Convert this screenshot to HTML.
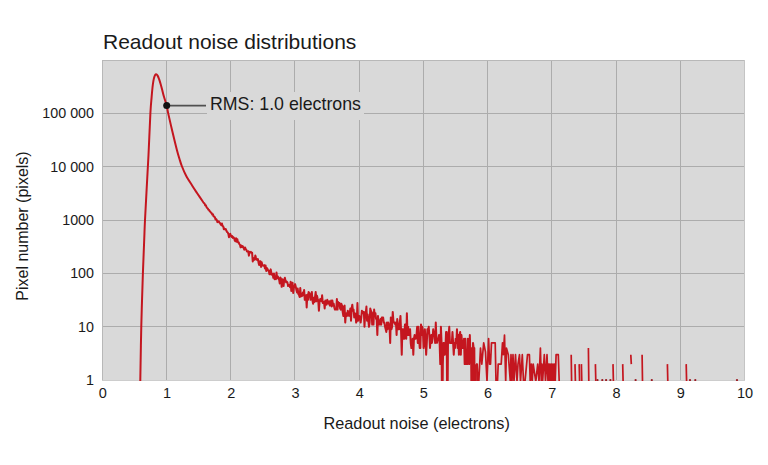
<!DOCTYPE html>
<html><head><meta charset="utf-8"><style>
html,body{margin:0;padding:0;background:#fff;}
body{width:768px;height:465px;position:relative;overflow:hidden;font-family:"Liberation Sans",sans-serif;color:#1a1a1a;}
.t{position:absolute;white-space:nowrap;}
#title{left:103px;top:30px;font-size:21px;color:#1a1a1a;}
#xt{left:323.5px;top:413.5px;font-size:16.3px;}
#yt{left:-52px;top:217px;width:150px;font-size:16px;transform:rotate(-90deg);transform-origin:center;text-align:center;}
.yl{position:absolute;right:674px;font-size:14.3px;line-height:16px;white-space:nowrap;}
.xl{position:absolute;top:385px;width:40px;text-align:center;font-size:14.5px;line-height:16px;}
svg{position:absolute;left:0;top:0;}
#rms{left:210px;top:93.5px;font-size:17.75px;color:#1a1a1a;}
</style></head><body>
<div id="title" class="t">Readout noise distributions</div>
<svg width="768" height="465" viewBox="0 0 768 465">
<defs><clipPath id="cp"><rect x="102" y="60" width="643" height="321"/></clipPath></defs>
<rect x="102" y="60" width="643" height="321" fill="#d9d9d9"/>
<g stroke="#acacac" stroke-width="1"><line x1="166.5" y1="60" x2="166.5" y2="381" /><line x1="230.5" y1="60" x2="230.5" y2="381" /><line x1="294.5" y1="60" x2="294.5" y2="381" /><line x1="359.5" y1="60" x2="359.5" y2="381" /><line x1="423.5" y1="60" x2="423.5" y2="381" /><line x1="487.5" y1="60" x2="487.5" y2="381" /><line x1="551.5" y1="60" x2="551.5" y2="381" /><line x1="616.5" y1="60" x2="616.5" y2="381" /><line x1="680.5" y1="60" x2="680.5" y2="381" /><line x1="102" y1="326.5" x2="745" y2="326.5" /><line x1="102" y1="273.5" x2="745" y2="273.5" /><line x1="102" y1="220.5" x2="745" y2="220.5" /><line x1="102" y1="166.5" x2="745" y2="166.5" /><line x1="102" y1="113.5" x2="745" y2="113.5" /></g>
<line x1="102.5" y1="60" x2="102.5" y2="381" stroke="#b8b8b8"/>
<line x1="102" y1="60.5" x2="745" y2="60.5" stroke="#b8b8b8"/>
<line x1="744.5" y1="60" x2="744.5" y2="381" stroke="#c4c4c4"/>
<line x1="102" y1="380.5" x2="745" y2="380.5" stroke="#cdcdcd"/>
<rect x="207" y="92" width="157" height="28" fill="#d9d9d9"/>
<g clip-path="url(#cp)" fill="none" stroke="#c4161f" stroke-linejoin="round"><path d="M140.00,400.00 C140.05,396.67 140.08,392.33 140.30,380.00 C140.52,367.67 140.87,343.83 141.30,326.00 C141.73,308.17 142.42,287.33 142.90,273.00 C143.38,258.67 143.85,248.83 144.20,240.00 C144.55,231.17 144.60,228.33 145.00,220.00 C145.40,211.67 146.02,200.83 146.60,190.00 C147.18,179.17 147.87,167.83 148.50,155.00 C149.13,142.17 149.88,122.62 150.40,113.00 C150.92,103.38 151.25,101.55 151.60,97.30 C151.95,93.05 152.20,90.25 152.50,87.50 C152.80,84.75 153.07,82.67 153.40,80.80 C153.73,78.93 154.07,77.38 154.50,76.30 C154.93,75.22 155.48,74.42 156.00,74.30 C156.52,74.18 157.08,74.78 157.60,75.60 C158.12,76.42 158.60,77.80 159.10,79.20 C159.60,80.60 160.10,82.28 160.60,84.00 C161.10,85.72 161.55,87.42 162.10,89.50 C162.65,91.58 163.13,93.82 163.90,96.50 C164.67,99.18 165.98,102.78 166.70,105.60 C167.42,108.42 167.23,109.00 168.20,113.40 C169.17,117.80 171.05,125.90 172.50,132.00 C173.95,138.10 175.73,145.50 176.90,150.00 C178.07,154.50 178.68,156.33 179.50,159.00 C180.32,161.67 180.72,163.25 181.80,166.00 C182.88,168.75 184.28,172.25 186.00,175.50 C187.72,178.75 190.27,182.58 192.10,185.50 C193.93,188.42 195.13,190.20 197.00,193.00 C198.87,195.80 202.25,200.75 203.30,202.30 L203.94,203.00 L204.58,203.63 L205.23,205.26 L205.87,205.32 L206.51,207.04 L207.15,208.01 L207.80,208.47 L208.44,209.88 L209.08,210.05 L209.72,211.18 L210.36,211.72 L211.01,212.73 L211.65,213.14 L212.29,214.55 L212.93,214.37 L213.58,216.34 L214.22,216.62 L214.86,217.15 L215.50,219.36 L216.14,218.98 L216.79,220.07 L217.43,222.11 L218.07,221.68 L218.71,221.29 L219.36,222.55 L220.00,223.12 L220.64,224.43 L221.28,225.26 L221.92,223.42 L222.57,226.12 L223.21,226.18 L223.85,229.18 L224.49,228.61 L225.13,229.39 L225.78,229.01 L226.42,230.83 L227.06,232.00 L227.70,232.59 L228.35,233.78 L228.99,237.26 L229.63,234.81 L230.27,233.91 L230.91,235.52 L231.56,236.88 L232.20,235.98 L232.84,237.86 L233.48,237.26 L234.13,238.11 L234.77,240.56 L235.41,241.25 L236.05,238.26 L236.69,241.84 L237.34,239.30 L237.98,242.38 L238.62,242.20 L239.26,243.95 L239.91,244.61 L240.55,247.39 L241.19,245.43 L241.83,247.09 L242.47,245.99 L243.12,246.79 L243.76,248.47 L244.40,249.69 L245.04,247.46 L245.69,249.19 L246.33,249.77 L246.97,251.51 L247.61,251.42 L248.25,251.33 L248.90,255.65 L249.54,251.87 L250.18,252.52 L250.82,251.78 L251.46,252.71 L252.11,252.81 L252.75,261.51 L253.39,257.91 L254.03,259.01 L254.68,259.77 L255.32,255.43 L255.96,257.56 L256.60,259.26 L257.24,260.03 L257.89,259.01 L258.53,262.65 L259.17,265.11 L259.81,261.37 L260.46,261.37 L261.10,266.96 L261.74,262.36 L262.38,265.11 L263.02,265.60 L263.67,265.76 L264.31,265.11 L264.95,268.60 L265.59,265.60 L266.24,270.98 L266.88,268.04 L267.52,268.98 L268.16,270.57 L268.80,270.57 L269.45,274.35 L270.09,274.35 L270.73,269.37 L271.37,272.94 L272.02,274.83 L272.66,274.11 L273.30,277.72 L273.94,273.40 L274.58,279.16 L275.23,278.29 L275.87,279.16 L276.51,272.49 L277.15,278.29 L277.80,276.36 L278.44,278.29 L279.08,279.46 L279.72,283.39 L280.36,277.44 L281.01,278.87 L281.65,286.85 L282.29,279.16 L282.93,283.75 L283.57,286.03 L284.22,279.76 L284.86,277.72 L285.50,280.70 L286.14,282.34 L286.79,281.67 L287.43,282.34 L288.07,286.03 L288.71,284.86 L289.35,285.25 L290.00,287.26 L290.64,281.67 L291.28,290.91 L291.92,285.25 L292.57,282.69 L293.21,292.97 L293.85,287.69 L294.49,286.44 L295.13,284.12 L295.78,286.85 L296.42,289.94 L297.06,292.44 L297.70,288.57 L298.35,294.08 L298.99,294.65 L299.63,297.09 L300.27,288.12 L300.91,296.46 L301.56,295.24 L302.20,295.84 L302.84,292.44 L303.48,295.24 L304.13,289.94 L304.77,299.82 L305.41,299.11 L306.05,295.24 L306.69,307.48 L307.34,294.65 L307.98,299.82 L308.62,291.92 L309.26,292.97 L309.91,295.24 L310.55,299.82 L311.19,294.65 L311.83,291.92 L312.47,300.56 L313.12,303.77 L313.76,297.75 L314.40,302.11 L315.04,297.09 L315.68,291.92 L316.33,301.32 L316.97,295.84 L317.61,298.42 L318.25,300.56 L318.90,310.72 L319.54,302.11 L320.18,299.11 L320.82,299.11 L321.46,301.32 L322.11,295.24 L322.75,302.92 L323.39,302.11 L324.03,302.11 L324.68,308.51 L325.32,300.56 L325.96,302.92 L326.60,304.64 L327.24,299.82 L327.89,302.92 L328.53,303.77 L329.17,301.32 L329.81,305.55 L330.46,305.55 L331.10,300.56 L331.74,306.50 L332.38,300.56 L333.02,305.55 L333.67,303.77 L334.31,307.48 L334.95,309.59 L335.59,309.59 L336.24,309.59 L336.88,299.11 L337.52,309.59 L338.16,302.11 L338.80,305.55 L339.45,302.92 L340.09,308.51 L340.73,309.59 L341.37,303.77 L342.02,305.55 L342.66,311.91 L343.30,315.90 L343.94,306.50 L344.58,305.55 L345.23,322.57 L345.87,314.49 L346.51,313.17 L347.15,315.90 L347.79,310.72 L348.44,314.49 L349.08,315.90 L349.72,313.17 L350.36,308.51 L351.01,320.72 L351.65,308.51 L352.29,304.64 L352.93,310.72 L353.57,309.59 L354.22,317.40 L354.86,313.17 L355.50,314.49 L356.14,322.57 L356.79,320.72 L357.43,302.92 L358.07,320.72 L358.71,315.90 L359.35,315.90 L360.00,319.00 L360.64,322.57 L361.28,317.40 L361.92,310.72 L362.57,313.17 L363.21,313.17 L363.85,311.91 L364.49,326.80 L365.13,314.49 L365.78,313.17 L366.42,306.50 L367.06,320.72 L367.70,314.49 L368.35,320.72 L368.99,326.80 L369.63,322.57 L370.27,308.51 L370.91,310.72 L371.56,311.91 L372.20,324.59 L372.84,313.17 L373.48,324.59 L374.13,309.59 L374.77,315.90 L375.41,313.17 L376.05,319.00 L376.69,319.00 L377.34,335.07 L377.98,315.90 L378.62,324.59 L379.26,320.72 L379.90,324.59 L380.55,319.00 L381.19,324.59 L381.83,317.40 L382.47,317.40 L383.12,317.40 L383.76,322.57 L384.40,322.57 L385.04,326.80 L385.68,329.24 L386.33,331.97 L386.97,322.57 L387.61,329.24 L388.25,322.57 L388.90,324.59 L389.54,326.80 L390.18,342.88 L390.82,317.40 L391.46,329.24 L392.11,326.80 L392.75,311.91 L393.39,320.72 L394.03,322.57 L394.68,322.57 L395.32,324.59 L395.96,322.57 L396.60,335.07 L397.24,319.00 L397.89,324.59 L398.53,329.24 L399.17,329.24 L399.81,322.57 L400.46,315.90 L401.10,331.97 L401.74,354.72 L402.38,329.24 L403.02,329.24 L403.67,338.65 L404.31,338.65 L404.95,324.59 L405.59,324.59 L406.24,338.65 L406.88,313.17 L407.52,335.07 L408.16,326.80 L408.80,335.07 L409.45,331.97 L410.09,329.24 L410.73,342.88 L411.37,348.05 L412.01,348.05 L412.66,338.65 L413.30,354.72 L413.94,338.65 L414.58,335.07 L415.23,338.65 L415.87,338.65 L416.51,335.07 L417.15,326.80 L417.79,342.88 L418.44,326.80 L419.08,338.65 L419.72,348.05 L420.36,348.05 L421.01,324.59 L421.65,335.07 L422.29,326.80 L422.93,331.97 L423.57,348.05 L424.22,342.88 L424.86,329.24 L425.50,338.65 L426.14,354.72 L426.79,342.88 L427.43,329.24 L428.07,331.97 L428.71,326.80 L429.35,335.07 L430.00,348.05 L430.64,338.65 L431.28,335.07 L431.92,342.88 L432.57,338.65 L433.21,329.24 L433.85,335.07 L434.49,331.97 L435.13,342.88 L435.78,322.57 L436.42,338.65 L437.06,342.88 L437.70,338.65 L438.35,338.65 L438.99,335.07 L439.63,342.88 L440.27,364.12 L440.91,326.80 L441.56,342.88 L442.20,433.60 L442.84,364.12 L443.48,342.88 L444.12,342.88 L444.77,354.72 L445.41,348.05 L446.05,331.97 L446.69,331.97 L447.34,433.60 L447.98,342.88 L448.62,335.07 L449.26,326.80 L449.90,342.88 L450.55,342.88 L451.19,342.88 L451.83,342.88 L452.47,331.97 L453.12,342.88 L453.76,354.72 L454.40,342.88 L455.04,348.05 L455.68,338.65 L456.33,342.88 L456.97,329.24 L457.61,348.05 L458.25,335.07 L458.90,354.72 L459.54,335.07 L460.18,331.97 L460.82,354.72 L461.46,335.07 L462.11,342.88 L462.75,348.05 L463.39,348.05 L464.03,338.65 L464.68,364.12 L465.32,338.65 L465.96,364.12 L466.60,354.72 L467.24,364.12 L467.89,338.65 L468.53,348.05 L469.17,364.12 L469.81,335.07 L470.46,354.72 L471.10,348.05 L471.74,433.60 L472.38,433.60 L473.02,342.88 L473.67,348.05 L474.31,348.05 L474.95,433.60 L475.59,433.60 L476.00,364.12" stroke-width="2"/><path d="M476.00,364.12 L477.20,364.12 L477.90,381.50 L478.80,381.50 L480.50,348.05 L481.80,364.12 L483.70,342.88 L485.50,352.00 L487.00,381.50 L488.60,338.65 L489.60,364.12 L490.50,364.12 L491.50,342.88 L495.20,342.88 L496.00,381.50 L497.50,381.50 L498.20,364.12 L501.20,364.12 L502.50,342.88 L503.30,354.72 L504.50,335.07 L505.70,381.50 L506.40,348.05 L508.30,354.72 L510.30,381.50 L511.00,354.72 L512.00,381.50 L513.00,354.72 L514.00,381.50 L515.50,354.72 L517.00,381.50 L518.00,364.12 L519.50,354.72 L520.50,381.50 L522.30,354.72 L523.50,381.50 L525.00,381.50 L527.50,354.72 L529.40,354.72 L530.20,381.50 L531.30,364.12 L532.20,381.50 L533.20,364.12 L535.80,381.50 L537.70,364.12 L539.00,381.50 L540.40,348.05 L541.30,381.50 L541.90,364.12 L542.60,381.50 L544.30,354.72 L545.50,381.50 L547.00,354.72 L548.00,381.50 L548.60,364.12 L549.30,381.50 L550.00,364.12 L550.80,381.50 L551.50,364.12 L552.30,381.50 L553.00,364.12 L553.70,381.50 L554.50,364.12 L555.20,381.50 L556.10,354.72 L558.30,354.72 L559.20,381.50 M571.20,354.72 L571.60,381.5 M575.00,364.12 L575.40,381.5 M579.20,364.12 L579.60,381.5 M581.40,364.12 L581.80,381.5 M588.40,348.05 L588.80,381.5 M595.40,364.12 L595.80,381.5 M613.00,364.12 L613.40,381.5 M622.70,364.12 L623.10,381.5 M642.10,354.72 L642.50,381.5 M667.40,364.12 L667.80,381.5 M686.20,364.12 L686.60,381.5 M630.8,354.72 L631.3,364.12" stroke-width="1.7"/></g>
<g clip-path="url(#cp)" fill="#9a1a22"><circle cx="597.5" cy="380" r="1.1"/><circle cx="602.3" cy="380" r="1.1"/><circle cx="606.1" cy="380" r="1.1"/><circle cx="610.4" cy="380" r="1.1"/><circle cx="635.6" cy="380" r="1.1"/><circle cx="651.8" cy="380" r="1.1"/><circle cx="690" cy="380" r="1.1"/><circle cx="695.3" cy="380" r="1.1"/><circle cx="737" cy="380" r="1.1"/></g>
<line x1="166.7" y1="105.6" x2="206" y2="105.6" stroke="#505050" stroke-width="1.6"/>
<circle cx="166.7" cy="105.6" r="3.5" fill="#111"/>
</svg>
<div id="rms" class="t">RMS: 1.0 electrons</div>
<div class="yl" style="top:372.1px">1</div><div class="yl" style="top:318.7px">10</div><div class="yl" style="top:265.3px">100</div><div class="yl" style="top:211.9px">1000</div><div class="yl" style="top:158.5px">10 000</div><div class="yl" style="top:105.1px">100 000</div>
<div class="xl" style="left:82.8px">0</div><div class="xl" style="left:147.0px">1</div><div class="xl" style="left:211.2px">2</div><div class="xl" style="left:275.5px">3</div><div class="xl" style="left:339.7px">4</div><div class="xl" style="left:403.9px">5</div><div class="xl" style="left:468.1px">6</div><div class="xl" style="left:532.3px">7</div><div class="xl" style="left:596.6px">8</div><div class="xl" style="left:660.8px">9</div><div class="xl" style="left:725.0px">10</div>
<div id="xt" class="t">Readout noise (electrons)</div>
<div id="yt" class="t">Pixel number (pixels)</div>
</body></html>
